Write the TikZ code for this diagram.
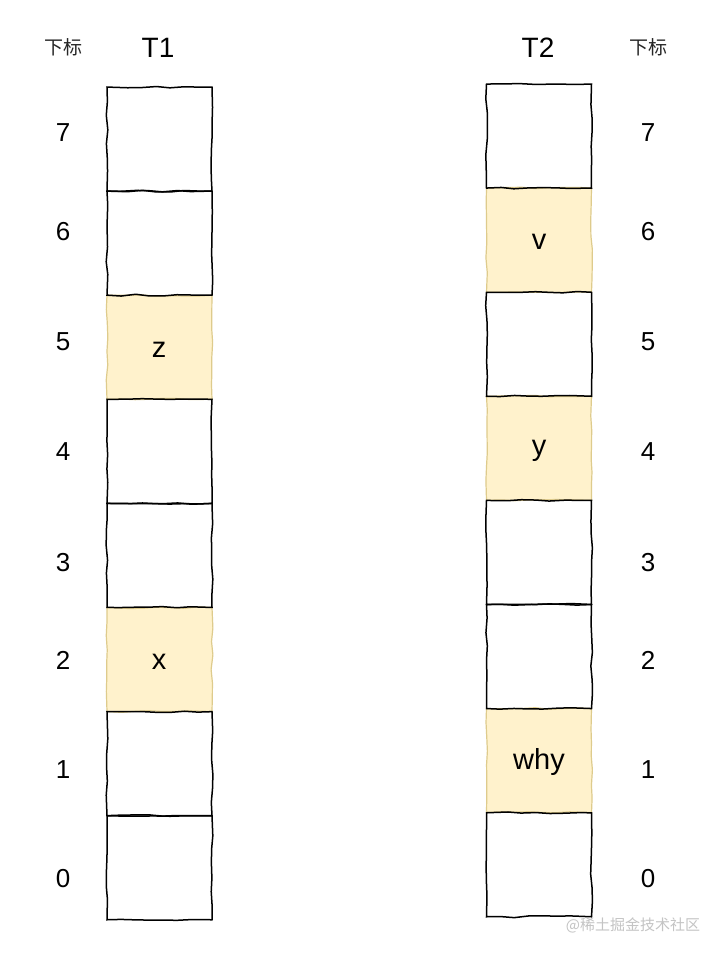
\documentclass[tikz,border=0pt]{standalone}
\usepackage{fontspec}
\setmainfont{Liberation Sans}
\newfontfamily\cjk{Noto Sans CJK SC}
\usetikzlibrary{decorations.pathmorphing}
\definecolor{cellfill}{HTML}{FFF2CC}
\definecolor{celledge}{HTML}{DECB8C}
\definecolor{wm}{HTML}{C4C4C4}
\begin{document}
\begin{tikzpicture}[x=1pt,y=-1pt,
  cell/.style={draw=black, line width=1.5pt, minimum width=105pt, minimum height=104pt,
    inner sep=0pt, decorate, decoration={random steps, segment length=14pt, amplitude=0.9pt},
    font=\fontsize{29}{29}\selectfont},
  hicell/.style={cell, draw=celledge, fill=cellfill, line width=1.2pt},
  idx/.style={font=\fontsize{26}{26}\selectfont},
  title/.style={font=\fontsize{28}{28}\selectfont},
  sub/.style={font=\cjk\fontsize{19}{19}\selectfont, text=black!85}]
\pgfmathsetseed{7}
\useasboundingbox (0,0) rectangle (713,954);
\fill[white] (0,0) rectangle (713,954);
% T1 highlighted cells
\node[hicell] (a5) at (159.5, 347.25) {};
\node[hicell] (a2) at (159.5, 659.55) {};
% T2 highlighted cells
\node[hicell] (b6) at (539, 240.1) {};
\node[hicell] (b4) at (539, 448.3) {};
\node[hicell] (b1) at (539, 760.6) {};
% T1 white cells
\foreach \i in {7,6,4,3,1,0} {
  \node[cell] (a\i) at (159.5, {87 + (7-\i+0.5)*104.1}) {};
}
% T2 white cells
\foreach \i in {7,5,3,2,0} {
  \node[cell] (b\i) at (539, {84 + (7-\i+0.5)*104.1}) {};
}
% cell texts
\node[font=\fontsize{29}{29}\selectfont] (ta5) at (159, 350) {z};
\node[font=\fontsize{29}{29}\selectfont] (ta2) at (159, 662) {x};
\node[font=\fontsize{29}{29}\selectfont] (tb6) at (539, 242) {v};
\node[font=\fontsize{29}{29}\selectfont] (tb4) at (539, 451) {y};
\node[font=\fontsize{29}{29}\selectfont] (tb1) at (539, 762) {why};
% titles
\node[title] (t1) at (158,48) {T1};
\node[title] (t2) at (538,48) {T2};
\node[sub] (s1) at (63,47) {下标};
\node[sub] (s2) at (648,47) {下标};
% index labels
\node[idx] (l7) at (63,133) {7};
\node[idx] (l6) at (63,232) {6};
\node[idx] (l5) at (63,342) {5};
\node[idx] (l4) at (63,452) {4};
\node[idx] (l3) at (63,563) {3};
\node[idx] (l2) at (63,660) {2};
\node[idx] (l1) at (63,770) {1};
\node[idx] (l0) at (63,879) {0};
\node[idx] (r7) at (648,133) {7};
\node[idx] (r6) at (648,232) {6};
\node[idx] (r5) at (648,342) {5};
\node[idx] (r4) at (648,452) {4};
\node[idx] (r3) at (648,563) {3};
\node[idx] (r2) at (648,660) {2};
\node[idx] (r1) at (648,770) {1};
\node[idx] (r0) at (648,879) {0};
% watermark
\node[font=\cjk\fontsize{15}{15}\selectfont, text=wm] (w) at (633,925) {@稀土掘金技术社区};
\end{tikzpicture}
\end{document}
